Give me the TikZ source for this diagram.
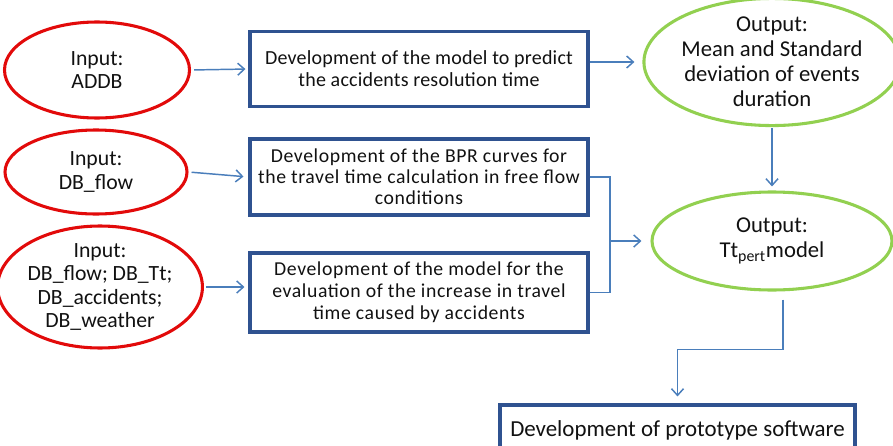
\documentclass[tikz,border=0pt]{standalone}
\usepackage{fontspec}
\setmainfont{Carlito}
\usetikzlibrary{shapes.geometric,arrows.meta}
\def\pxu{*0.75pt}
\definecolor{inred}{HTML}{E20A0A}
\definecolor{outgreen}{HTML}{92D050}
\definecolor{boxblue}{HTML}{2F5290}
\definecolor{arrblue}{HTML}{4A7EBB}
\definecolor{txt}{HTML}{111111}
\tikzset{
  inell/.style={ellipse, draw=inred, line width=2.3pt, inner sep=0pt, align=center, text=txt,
     font=\fontsize{16.3pt}{17.3pt}\selectfont},
  outell/.style={ellipse, draw=outgreen, line width=2.3pt, inner sep=0pt, align=center, text=txt,
     font=\fontsize{17pt}{18.75pt}\selectfont},
  devbox/.style={rectangle, draw=boxblue, line width=2.3pt, inner sep=0pt, align=center, text=txt,
     minimum width=338\pxu, minimum height=75\pxu},
  conn/.style={draw=arrblue, line width=1.1pt},
  arr/.style={conn, -{Straight Barb[length=5pt,width=9pt]}},
}
\begin{document}
\begin{tikzpicture}[x=0.75pt,y=-0.75pt]
\useasboundingbox (0,0) rectangle (893,446);
% input ellipses
\node[inell, minimum width=185\pxu, minimum height=96\pxu] (in1) at (97,70) {Input:\\ADDB};
\node[inell, minimum width=182\pxu, minimum height=84\pxu] (in2) at (96,172) {Input:\\DB\_flow};
\node[inell, minimum width=185\pxu, minimum height=122\pxu] (in3) at (100,287) {Input:\\DB\_flow; DB\_Tt;\\DB\_accidents;\\DB\_weather};
% development boxes
\node[devbox, font=\fontsize{15pt}{16.5pt}\selectfont\addfontfeatures{LetterSpace=1}] (b1) at (419,69) {Development of the model to predict\\the accidents resolution time};
\node[devbox, minimum height=76\pxu, font=\fontsize{14.8pt}{15.8pt}\selectfont\addfontfeatures{LetterSpace=3}] (b2) at (419,177) {Development of the BPR curves for\\the travel time calculation in free flow\\conditions};
\node[devbox, minimum height=79\pxu, font=\fontsize{14.8pt}{16.5pt}\selectfont\addfontfeatures{LetterSpace=3}] (b3) at (419,292.5) {Development of the model for the\\evaluation of the increase in travel\\time caused by accidents};
\node[devbox, minimum width=355\pxu, minimum height=50\pxu, font=\fontsize{17.2pt}{18pt}\selectfont] (b4) at (677.5,430) {Development of prototype software};
% output ellipses
\node[outell, minimum width=239\pxu, minimum height=112\pxu] (g1) at (772,62) {Output:\\Mean and Standard\\deviation of events\\duration};
\node[outell, minimum width=240\pxu, minimum height=98\pxu] (g2) at (772,241) {Output:\\Tt\textsubscript{pert}model};
% connectors
\draw[arr, shorten <=3\pxu, shorten >=3\pxu] (in1.east) -- (b1.west);
\draw[arr, shorten <=3\pxu, shorten >=5\pxu] (in2.east) -- (b2.west);
\draw[arr, shorten <=2\pxu, shorten >=4\pxu] (in3.east) -- (b3.west |- in3.east);
\draw[arr, shorten >=8\pxu] (b1.east |- g1.west) -- (g1.west);
\draw[arr, shorten <=1\pxu, shorten >=4\pxu] (g1.south) -- (g2.north);
\coordinate (j) at (610,241);
\draw[conn] (b2.east) -| (j) |- (b3.east);
\draw[arr, shorten >=9\pxu] (j) -- (g2.west);
\draw[arr, shorten <=8\pxu, shorten >=7\pxu] ([xshift=11\pxu]g2.south) -- ++(0,58) -| (b4.north);
\end{tikzpicture}
\end{document}
